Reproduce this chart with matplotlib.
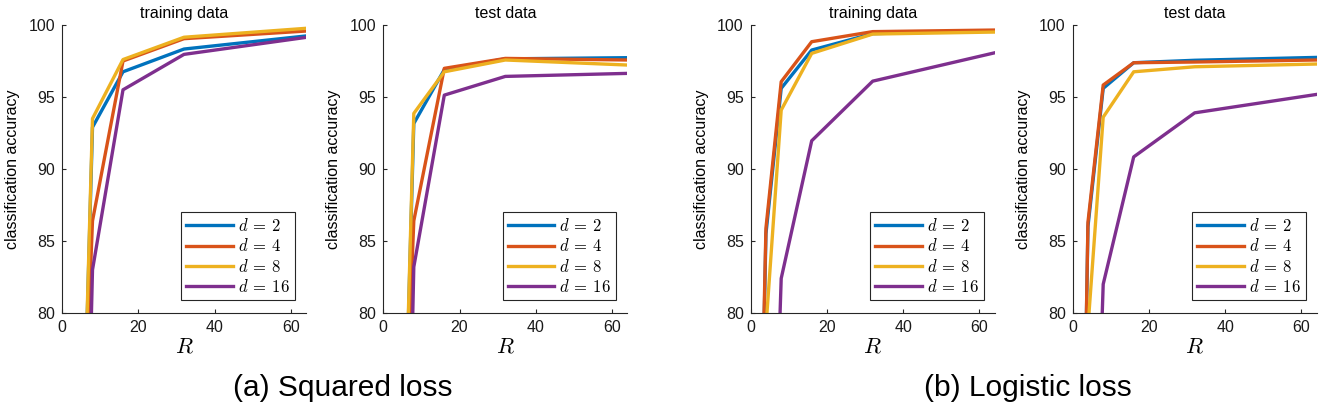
import matplotlib
matplotlib.use("Agg")
import matplotlib.pyplot as plt

plt.rcParams["mathtext.fontset"] = "cm"
plt.rcParams["font.family"] = ["Liberation Sans", "DejaVu Sans"]

R = [2, 4, 8, 16, 32, 64]
d_labels = [r"$d\:=\:2$", r"$d\:=\:4$", r"$d\:=\:8$", r"$d\:=\:16$"]
colors = ["#0072BD", "#D95319", "#EDB120", "#7E2F8E"]

# squared loss
sq_train = [
    [50, 55, 92.9, 96.75, 98.33, 99.24],
    [50, 60, 86.4, 97.5, 99.05, 99.58],
    [50, 55, 93.5, 97.6, 99.15, 99.77],
    [40, 40, 83.0, 95.5, 97.96, 99.14],
]
sq_test = [
    [50, 55, 93.16, 96.9, 97.65, 97.73],
    [50, 60, 86.4, 96.99, 97.68, 97.57],
    [50, 55, 93.86, 96.75, 97.57, 97.22],
    [35, 35, 83.2, 95.13, 96.43, 96.64],
]
# logistic loss
lg_train = [
    [60, 85.5, 95.6, 98.26, 99.4, 99.6],
    [62, 85.9, 96.06, 98.84, 99.54, 99.65],
    [55, 79.0, 94.09, 98.03, 99.37, 99.51],
    [40, 50, 82.4, 91.96, 96.1, 98.07],
]
lg_test = [
    [55, 86.0, 95.6, 97.38, 97.55, 97.75],
    [55, 86.3, 95.83, 97.38, 97.43, 97.57],
    [50, 79.0, 93.6, 96.75, 97.1, 97.29],
    [40, 50, 82.0, 90.84, 93.9, 95.18],
]

panels = [
    (sq_train, "training data", 62),
    (sq_test, "test data", 383.3),
    (lg_train, "training data", 750.7),
    (lg_test, "test data", 1072.7),
]

W, H = 1325, 411
fig = plt.figure(figsize=(W / 100, H / 100), dpi=100)

for data, title, left in panels:
    ax = fig.add_axes([left / W, (H - 313) / H, 244 / W, 288 / H])
    for vals, lab, c in zip(data, d_labels, colors):
        ax.plot(R, vals, color=c, lw=2.4, label=lab)
    ax.set_xlim(0, 64)
    ax.set_ylim(80, 100)
    ax.set_xticks([0, 20, 40, 60])
    ax.set_yticks([80, 85, 90, 95, 100])
    for s in ["top", "right"]:
        ax.spines[s].set_visible(False)
    for s in ["left", "bottom"]:
        ax.spines[s].set_color("#262626")
        ax.spines[s].set_linewidth(0.8)
    ax.tick_params(direction="in", length=3, width=0.8, labelsize=11.5,
                   color="#262626", labelcolor="#1a1a1a", pad=5)
    ax.set_title(title, fontsize=11.5, pad=5)
    ax.set_xlabel("$R$", fontsize=16, labelpad=1)
    ax.set_ylabel("classification accuracy", fontsize=11.5, labelpad=6)
    leg = ax.legend(loc="lower right", bbox_to_anchor=(0.955, 0.045),
                    borderaxespad=0, fontsize=12, handlelength=2.8,
                    handletextpad=0.3, labelspacing=0.2, borderpad=0.3,
                    fancybox=False, framealpha=1, edgecolor="#262626")
    leg.get_frame().set_linewidth(0.8)

fig.text(343 / W, 1 - 388 / H, "(a) Squared loss", fontsize=21.5,
         ha="center", va="center")
fig.text(1028 / W, 1 - 388 / H, "(b) Logistic loss", fontsize=21.5,
         ha="center", va="center")

fig.savefig("out.png", dpi=100)
